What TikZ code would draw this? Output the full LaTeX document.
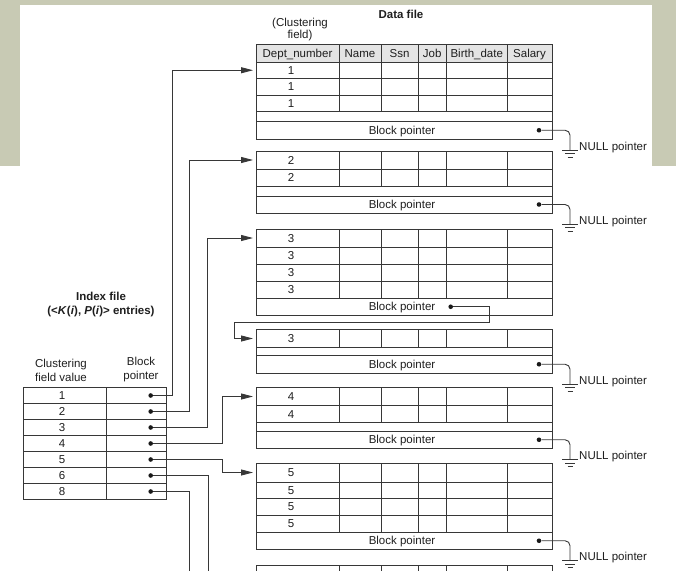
\documentclass[tikz,border=0pt]{standalone}
\usepackage{fontspec}
\setmainfont{Liberation Sans}
\usetikzlibrary{arrows.meta,calc}
\definecolor{bgcol}{RGB}{200,202,180}
\definecolor{lc}{RGB}{55,55,55}
\definecolor{tc}{RGB}{30,30,30}
\definecolor{hdr}{RGB}{228,228,228}
\tikzset{
  tbl/.style={draw=lc,line width=0.9pt},
  wire/.style={draw=lc,line width=0.9pt},
  ptr/.style={wire,-{Triangle[length=12pt,width=6pt]},shorten >=3pt},
  dot/.style={circle,fill=black!90,inner sep=0pt,minimum size=4.6pt},
  txt/.style={font=\fontsize{11.5}{13}\selectfont,text=tc,inner sep=0pt},
  lbl/.style={txt,text height=8.2pt,text depth=0pt},
  ttl/.style={txt,font=\fontsize{11.5}{13}\selectfont\bfseries},
  nullgnd/.pic={\draw[wire] (-8,0)--(8,0) (-5,3.5)--(5,3.5) (-2.5,7)--(2.5,7);}
}
\begin{document}
\begin{tikzpicture}[x=1pt,y=-1pt]
\useasboundingbox (0,0) rectangle (676,570);
%background
\fill[bgcol] (0,0) rectangle (676,166);
\fill[white] (20,5) rectangle (652,166);
%titles
\node[ttl] (df) at (401,14) {Data file};
\node[txt,align=center,font=\fontsize{11.5}{12}\selectfont] (cf) at (300,30) {(Clustering\\field)};
\node[ttl,align=center,font=\fontsize{11.5}{14.7}\selectfont\bfseries] (xf) at (101,304.5)
  {Index file\\(<\textit{K}(\textit{i}), \textit{P}(\textit{i})> entries)};
\node[txt,align=center,font=\fontsize{11.5}{14}\selectfont] (cv) at (61,370) {Clustering\\field value};
\node[txt,align=center,font=\fontsize{11.5}{14}\selectfont] (bv) at (141,370) {Block\\pointer};
%block 1
\filldraw[tbl,fill=hdr] (256,44) rectangle (552,62);
\draw[tbl] (256,44) rectangle (552,139);
\foreach \y in {62,78.5,95,111.5,121.5} \draw[tbl] (256,\y)--(552,\y);
\foreach \x in {339,381,418,446.5,507} \draw[tbl] (\x,44)--(\x,111.5);
\foreach \t/\x [count=\k] in {Dept\_number/297.5,Name/360,Ssn/399.5,Job/432.25,Birth\_date/476.75,Salary/529.5}
  \node[lbl] (h\k) at (\x,53) {\t};
\foreach \y [count=\k] in {70.25,86.75,103.25} \node[lbl] (ra\k) at (291,\y) {1};
\node[lbl] (bp1) at (402,130.25) {Block pointer};
\coordinate (b1) at (256,70.25);
%block 2
\draw[tbl] (256,151) rectangle (552,213);
\foreach \y in {169,186,196} \draw[tbl] (256,\y)--(552,\y);
\foreach \x in {339,381,418,446.5,507} \draw[tbl] (\x,151)--(\x,186);
\foreach \y [count=\k] in {160,177.5} \node[lbl] (rb\k) at (291,\y) {2};
\node[lbl] (bp2) at (402,204.5) {Block pointer};
\coordinate (b2) at (256,160);
%block 3
\draw[tbl] (256,229) rectangle (552,315.5);
\foreach \y in {247,264,281,298} \draw[tbl] (256,\y)--(552,\y);
\foreach \x in {339,381,418,446.5,507} \draw[tbl] (\x,229)--(\x,298);
\foreach \y [count=\k] in {238,255.5,272.5,289.5} \node[lbl] (rc\k) at (291,\y) {3};
\node[lbl] (bp3) at (402,306.75) {Block pointer};
\node[dot] (o3) at (450.7,306.75) {};
\coordinate (b3) at (256,238);
%block 4 (overflow of 3)
\draw[tbl] (256,329.5) rectangle (552,373);
\foreach \y in {347.5,355.5} \draw[tbl] (256,\y)--(552,\y);
\foreach \x in {339,381,418,446.5,507} \draw[tbl] (\x,329.5)--(\x,347.5);
\node[lbl] (rd1) at (291,338.5) {3};
\node[lbl] (bp4) at (402,364.25) {Block pointer};
\coordinate (b4) at (256,338.5);
%block 5
\draw[tbl] (256,387.5) rectangle (552,448.5);
\foreach \y in {405.5,422.5,431} \draw[tbl] (256,\y)--(552,\y);
\foreach \x in {339,381,418,446.5,507} \draw[tbl] (\x,387.5)--(\x,422.5);
\foreach \y [count=\k] in {396.5,414} \node[lbl] (re\k) at (291,\y) {4};
\node[lbl] (bp5) at (402,439.75) {Block pointer};
\coordinate (b5) at (256,396.5);
%block 6
\draw[tbl] (256,463) rectangle (552,549.5);
\foreach \y in {482,498.5,515,532} \draw[tbl] (256,\y)--(552,\y);
\foreach \x in {339,381,418,446.5,507} \draw[tbl] (\x,463)--(\x,532);
\foreach \y [count=\k] in {472.5,490.25,506.75,523.5} \node[lbl] (rf\k) at (291,\y) {5};
\node[lbl] (bp6) at (402,540.75) {Block pointer};
\coordinate (b6) at (256,472.5);
%block 7 (cut off)
\draw[tbl] (256,572)--(256,565)--(552,565)--(552,572);
\foreach \x in {339,381,418,446.5,507} \draw[tbl] (\x,565)--(\x,572);
%null pointers
\foreach \i/\y in {1/130.25,2/204.5,4/364.25,5/439.75,6/540.75}{
  \node[dot] (q\i) at (539,\y) {};
  \coordinate (g\i) at (570,\y+19.75);
  \draw[wire,rounded corners=5pt] (q\i) -| (g\i);
  \pic at (g\i) {nullgnd};
  \node[lbl,anchor=west] (n\i) at (579,\y+15.7) {NULL pointer};
}
%index file
\draw[tbl] (23.5,387.5) rectangle (166.5,499.5);
\draw[tbl] (106.5,387.5)--(106.5,499.5);
\foreach \k in {1,...,6} \draw[tbl] (23.5,{387.5+16*\k})--(166.5,{387.5+16*\k});
\foreach \v [count=\k] in {1,2,3,4,5,6,8}{
  \node[lbl] (k\v) at (62,{379.5+16*\k}) {\v};
  \node[dot] (p\v) at (150.7,{379.5+16*\k}) {};
}
\coordinate (e6) at (208.3,572);
\coordinate (e8) at (189.3,572);
%pointers
\draw[ptr] (p1) -- ++(22,0) |- (b1);
\draw[ptr] (p2) -- ++(38.6,0) |- (b2);
\draw[ptr] (p3) -- ++(57,0) |- (b3);
\draw[ptr] (p4) -- ++(71.8,0) |- (b5);
\draw[ptr] (p5) -- ++(71.8,0) |- (b6);
\draw[wire] (p6) -| (e6);
\draw[wire] (p8) -| (e8);
\draw[ptr] (o3) -| (489.3,322.7) -- (234.3,322.7) |- (b4);
\end{tikzpicture}
\end{document}
